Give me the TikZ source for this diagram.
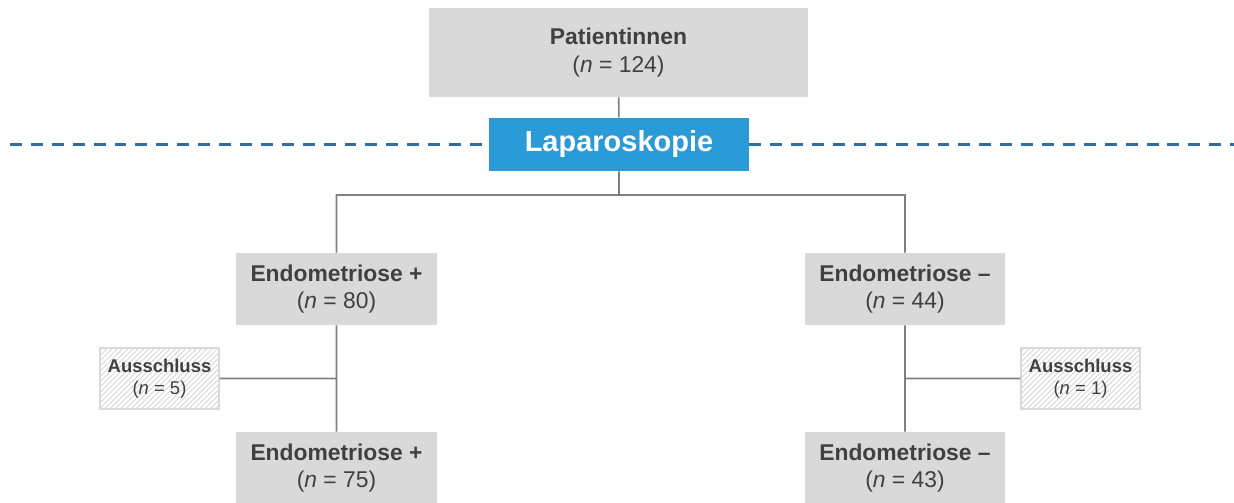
\documentclass[tikz,border=0pt]{standalone}
\usepackage{fontspec}
\setmainfont{Liberation Sans}
\usetikzlibrary{positioning, patterns}
\usepackage{xcolor}

\definecolor{boxgray}{HTML}{D9D9D9}
\definecolor{linegray}{HTML}{7F7F7F}
\definecolor{txtgray}{HTML}{404040}
\definecolor{lapblue}{HTML}{2A9BD6}
\definecolor{dashblue}{HTML}{2F6EA5}
\definecolor{hatchgray}{HTML}{CFCFCF}

\begin{document}
\begin{tikzpicture}[x=0.02cm, y=-0.02cm,
        every node/.style={inner sep=0pt, align=center, text=txtgray},
        grpbox/.style={rectangle, fill=boxgray, minimum width=4.02cm, minimum height=1.44cm, font=\fontsize{13}{15.5}\selectfont},
        outbox/.style={rectangle, draw=boxgray, line width=0.8pt, preaction={fill=white}, pattern=north east lines, pattern color=hatchgray, minimum width=2.38cm, minimum height=1.22cm, font=\fontsize{10.5}{12.5}\selectfont},
        link/.style={draw=linegray, line width=0.9pt},
        divider/.style={draw=dashblue, line width=1.6pt, dash pattern=on 6.8pt off 5.1pt}]
        \useasboundingbox (0,0) rectangle (1234,503);

        \coordinate (dash_l) at (10,144.5);
        \coordinate (dash_r) at (1234,144.5);
        \coordinate (split) at (619,195);

        \node at (618.5,52.5) [grpbox, minimum width=7.58cm, minimum height=1.78cm] (patients) {\textbf{Patientinnen}\\(\textit{n} = 124)};
        \node at (619,144.5) [rectangle, fill=lapblue, minimum width=5.2cm, minimum height=1.06cm, text=white, font=\fontsize{16.5}{19}\selectfont\bfseries] (lap) {Laparoskopie};

        \node at (336.5,289) [grpbox] (endo_pos) {\textbf{Endometriose +}\\(\textit{n} = 80)};
        \node at (905,289) [grpbox] (endo_neg) {\textbf{Endometriose –}\\(\textit{n} = 44)};

        \node at (159.5,378.5) [outbox] (excl_pos) {\textbf{Ausschluss}\\(\textit{n} = 5)};
        \node at (1080.5,378.5) [outbox] (excl_neg) {\textbf{Ausschluss}\\(\textit{n} = 1)};

        \node at (336.5,468) [grpbox] (final_pos) {\textbf{Endometriose +}\\(\textit{n} = 75)};
        \node at (905,468) [grpbox] (final_neg) {\textbf{Endometriose –}\\(\textit{n} = 43)};

        \draw[divider] (dash_l) -- (lap.west)
                       (lap.east) -- (dash_r);

        \draw[link] (patients) -- (lap)
                    (lap.south) -- (split)
                    (endo_pos.north) |- (split) -| (endo_neg.north)
                    (endo_pos) -- (final_pos)
                    (endo_neg) -- (final_neg)
                    (excl_pos.east) -- (excl_pos.east -| endo_pos.south)
                    (excl_neg.west) -- (excl_neg.west -| endo_neg.south);
\end{tikzpicture}
\end{document}
